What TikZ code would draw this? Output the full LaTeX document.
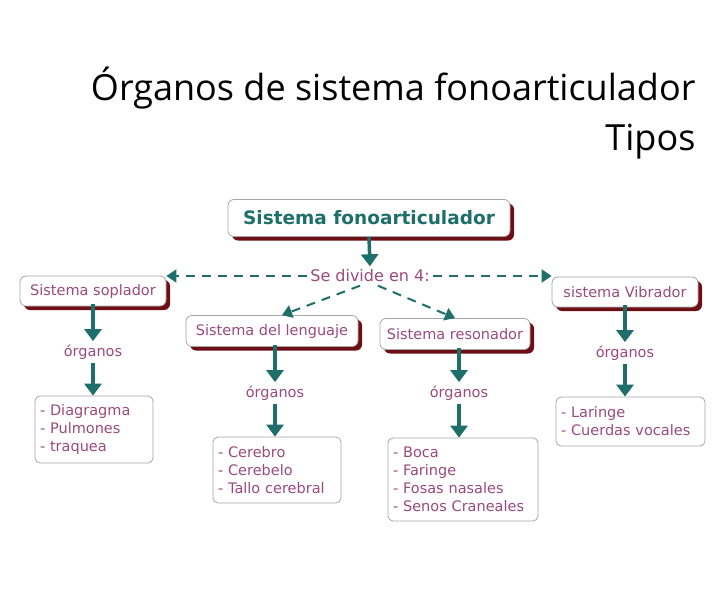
\documentclass[tikz,border=0pt]{standalone}
\usepackage{fontspec}
\setmainfont{Open Sans}
\newfontfamily\djfont{DejaVu Sans}
\usetikzlibrary{arrows.meta,shadows}
\definecolor{teal1}{HTML}{1E6E6A}
\definecolor{mauve}{HTML}{9A4A7E}
\definecolor{shad}{HTML}{6E0F16}
\begin{document}
\begin{tikzpicture}[x=1pt,y=-1pt,
 box/.style={draw=gray!70,line width=0.8pt,fill=white,rounded corners=6pt,
   drop shadow={shadow xshift=4pt,shadow yshift=-4pt,fill=shad,opacity=1},
   font=\djfont\fontsize{14.5}{17}\selectfont,text=mauve,inner sep=0pt},
 lst/.style={draw=gray!70,line width=0.8pt,fill=white,rounded corners=5pt,
   font=\djfont\fontsize{14.5}{18}\selectfont,text=mauve,align=left,inner sep=0pt},
 lbl/.style={font=\djfont\fontsize{14.5}{17}\selectfont,text=mauve},
 arr/.style={-{Triangle[length=12pt,width=17pt]},line width=3.5pt,teal1},
 darr/.style={-{Triangle[length=10pt,width=13pt]},line width=2pt,teal1,dash pattern=on 9pt off 7pt}]
\useasboundingbox (0,0) rectangle (728,589);
\fill[white] (0,0) rectangle (728,589);
\node[anchor=base east,font=\fontsize{36}{40}\selectfont] (t1) at (699,100) {Órganos de sistema fonoarticulador};
\node[anchor=base east,font=\fontsize{36}{40}\selectfont] (t2) at (699,150) {Tipos};
\node[box,minimum width=282pt,minimum height=37pt,font=\djfont\bfseries\fontsize{18.5}{21}\selectfont,text=teal1] (main) at (369,218) {Sistema fonoarticulador};
\node[lbl,font=\djfont\fontsize{16}{18}\selectfont] (div) at (370,276) {Se divide en 4:};
\node[box,minimum width=146pt,minimum height=30pt] (sop) at (93,291) {Sistema soplador};
\node[box,minimum width=172pt,minimum height=31pt] (len) at (272,331) {Sistema del lenguaje};
\node[box,minimum width=150pt,minimum height=31pt] (res) at (455,334) {Sistema resonador};
\node[box,minimum width=146pt,minimum height=30pt] (vib) at (625,292) {sistema Vibrador};
\node[lbl] (o1) at (93,352) {órganos};
\node[lbl] (o2) at (275,393) {órganos};
\node[lbl] (o3) at (459,393) {órganos};
\node[lbl] (o4) at (625,353) {órganos};
\node[lst,minimum width=118pt,minimum height=67pt,text width=108pt] (l1) at (94,429.5) {- Diagragma\\- Pulmones\\- traquea};
\node[lst,minimum width=128pt,minimum height=66pt,text width=118pt] (l2) at (277,470) {- Cerebro\\- Cerebelo\\- Tallo cerebral};
\node[lst,minimum width=150pt,minimum height=83pt,text width=140pt] (l3) at (463,479.5) {- Boca\\- Faringe\\- Fosas nasales\\- Senos Craneales};
\node[lst,minimum width=149pt,minimum height=49pt,text width=139pt] (l4) at (630.5,421.5) {- Laringe\\- Cuerdas vocales};
\draw[arr] (main.south) -- (div.north);
\draw[darr] (div.west) -- (sop.east|-div.west);
\draw[darr] (div.east) -- (vib.west|-div.east);
\draw[darr] ([xshift=-10pt]div.south) -- ([xshift=10pt]len.north);
\draw[darr] ([xshift=8pt]div.south) -- (res.north);
\foreach \a/\b in {sop/o1,len/o2,res/o3,vib/o4}{\draw[arr] ([yshift=2pt]\b.north|-\a.south) -- (\b.north);}
\draw[arr] (o1.south) -- (o1.south|-l1.north);
\draw[arr] (o2.south) -- (o2.south|-l2.north);
\draw[arr] (o3.south) -- (o3.south|-l3.north);
\draw[arr] (o4.south) -- (o4.south|-l4.north);
\end{tikzpicture}
\end{document}
